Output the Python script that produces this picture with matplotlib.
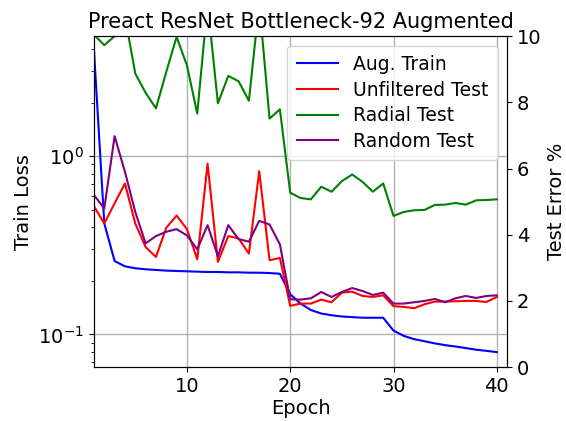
import matplotlib
matplotlib.use("Agg")
import matplotlib.pyplot as plt
import numpy as np

epochs = list(range(1, 41))
aug_train = [3.94, 0.42, 0.258, 0.241, 0.235, 0.232, 0.230, 0.228, 0.227, 0.226,
             0.225, 0.224, 0.224, 0.223, 0.223, 0.222, 0.222, 0.221, 0.219, 0.168,
             0.149, 0.137, 0.131, 0.128, 0.126, 0.125, 0.124, 0.124, 0.124, 0.105,
             0.098, 0.094, 0.0915, 0.089, 0.087, 0.0855, 0.0838, 0.082, 0.0808, 0.0795]
unfiltered_test = [4.86, 4.34, 4.95, 5.55, 4.34, 3.63, 3.33, 4.21, 4.58, 4.17,
                   3.26, 6.15, 3.18, 3.96, 3.89, 3.43, 5.92, 3.23, 3.30, 1.85,
                   1.92, 1.92, 2.04, 1.96, 2.25, 2.28, 2.15, 2.12, 2.17, 1.84,
                   1.82, 1.78, 1.90, 1.98, 1.98, 1.99, 2.00, 2.00, 1.97, 2.12]
radial_test = [10.05, 9.73, 10.0, 10.6, 8.87, 8.29, 7.82, 8.92, 9.98, 9.12,
               7.66, 11.0, 7.97, 8.80, 8.64, 8.05, 11.0, 7.51, 7.79, 5.27,
               5.11, 5.07, 5.45, 5.30, 5.62, 5.82, 5.60, 5.30, 5.55, 4.57,
               4.69, 4.74, 4.75, 4.90, 4.91, 4.96, 4.91, 5.04, 5.05, 5.07]
random_test = [5.20, 4.79, 6.98, 5.90, 4.69, 3.74, 3.96, 4.09, 4.17, 3.98,
               3.56, 4.29, 3.35, 4.29, 3.87, 3.79, 4.42, 4.31, 3.71, 2.05,
               2.04, 2.08, 2.27, 2.12, 2.27, 2.39, 2.30, 2.18, 2.25, 1.92,
               1.92, 1.96, 2.00, 2.06, 1.96, 2.08, 2.15, 2.09, 2.15, 2.17]

plt.rcParams['font.size'] = 14

fig = plt.figure(figsize=(5.66, 4.21), dpi=100)
ax = fig.add_axes([0.166, 0.128, 0.730, 0.786])
ax2 = ax.twinx()

l1, = ax.plot(epochs, aug_train, color='blue', lw=1.5, label='Aug. Train')
ax.set_yscale('log')
ax.set_ylim(0.0655, 4.72)
ax.set_xlim(1, 41)
ax.set_xticks([10, 20, 30, 40])
ax.grid(True, which='major', color='#b0b0b0', lw=1)
ax.set_xlabel('Epoch', labelpad=2)
ax.set_ylabel('Train Loss')
ax.set_title('Preact ResNet Bottleneck-92 Augmented', fontsize=15)

l2, = ax2.plot(epochs, unfiltered_test, color='red', lw=1.5, label='Unfiltered Test')
l3, = ax2.plot(epochs, radial_test, color='green', lw=1.5, label='Radial Test')
l4, = ax2.plot(epochs, random_test, color='purple', lw=1.5, label='Random Test')
ax2.set_ylim(0, 10)
ax2.set_yticks([0, 2, 4, 6, 8, 10])
ax2.set_ylabel('Test Error %')

leg = ax2.legend(handles=[l1, l2, l3, l4], loc='upper right', fontsize=13.5,
                 borderpad=0.5, labelspacing=0.35, handlelength=2.2)

fig.savefig('out.png', dpi=100)
